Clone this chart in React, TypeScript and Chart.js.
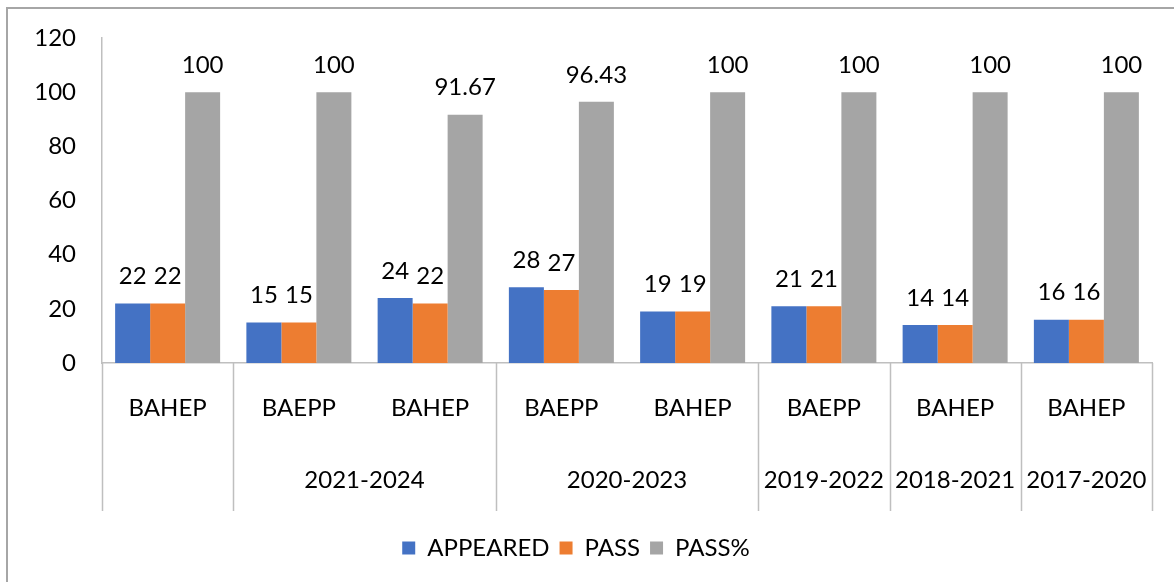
import React, { useEffect, useRef } from "react";
import { Chart, registerables } from "chart.js";

Chart.register(...registerables);

const categories = ["BAHEP", "BAEPP", "BAHEP", "BAEPP", "BAHEP", "BAEPP", "BAHEP", "BAHEP"];
const groupLabels = ["", "2021-2024", "2020-2023", "2019-2022", "2018-2021", "2017-2020"];
const groupStarts = [0, 1, 3, 5, 6, 7];
const groupEnds = [1, 3, 5, 6, 7, 8];
const appeared = [22, 15, 24, 28, 19, 21, 14, 16];
const pass = [22, 15, 22, 27, 19, 21, 14, 16];
const passPct = [100, 100, 91.67, 96.43, 100, 100, 100, 100];
const yTicks = [0, 20, 40, 60, 80, 100, 120];

const FONT = "Lato";
const AXIS_COLOR = "#bfbfbf";

const dataLabelPlugin = {
  id: "dataLabels",
  afterDatasetsDraw(chart: any) {
    const ctx = chart.ctx;
    ctx.save();
    ctx.font = `24px ${FONT}`;
    ctx.fillStyle = "#000";
    ctx.textAlign = "center";
    ctx.textBaseline = "middle";
    chart.data.datasets.forEach((ds: any, di: number) => {
      const meta = chart.getDatasetMeta(di);
      meta.data.forEach((bar: any, i: number) => {
        ctx.fillText(String(ds.data[i]), bar.x, bar.y - 27);
      });
    });
    ctx.restore();
  },
};

const groupAxisPlugin = {
  id: "groupAxis",
  afterDraw(chart: any) {
    const ctx = chart.ctx;
    const area = chart.chartArea;
    const n = categories.length;
    const w = (area.right - area.left) / n;
    const boundaries = Array.from(new Set([...groupStarts, ...groupEnds]));
    ctx.save();
    ctx.strokeStyle = AXIS_COLOR;
    ctx.lineWidth = 1.5;
    boundaries.forEach((b) => {
      const px = Math.round(area.left + b * w) + 0.5;
      ctx.beginPath();
      ctx.moveTo(px, area.bottom);
      ctx.lineTo(px, area.bottom + 148);
      ctx.stroke();
    });
    ctx.font = `24px ${FONT}`;
    ctx.fillStyle = "#000";
    ctx.textAlign = "center";
    ctx.textBaseline = "middle";
    groupLabels.forEach((lab, gi) => {
      if (!lab) return;
      const cx = area.left + ((groupStarts[gi] + groupEnds[gi]) / 2) * w;
      ctx.fillText(lab, cx, area.bottom + 117);
    });
    ctx.restore();
  },
};

export default function App() {
  const ref = useRef<HTMLCanvasElement | null>(null);
  useEffect(() => {
    if (!ref.current) return;
    const chart = new Chart(ref.current, {
      type: "bar",
      data: {
        labels: categories,
        datasets: [
          { label: "APPEARED", data: appeared, backgroundColor: "#4472C4" },
          { label: "PASS", data: pass, backgroundColor: "#ED7D31" },
          { label: "PASS%", data: passPct, backgroundColor: "#A5A5A5" },
        ],
      },
      options: {
        animation: false,
        responsive: false,
        maintainAspectRatio: false,
        layout: { padding: { top: 38, right: 22, bottom: 12, left: 0 } },
        datasets: { bar: { categoryPercentage: 0.8, barPercentage: 1.0 } },
        plugins: {
          legend: {
            position: "bottom",
            labels: {
              font: { family: FONT, size: 24 },
              color: "#000",
              boxWidth: 13,
              boxHeight: 13,
              padding: 10,
            },
          },
          tooltip: { enabled: false },
        },
        scales: {
          x: {
            grid: { display: false, drawTicks: false },
            border: { display: true, color: AXIS_COLOR, width: 1.5 },
            ticks: { font: { family: FONT, size: 24 }, color: "#000", padding: 31, maxRotation: 0, autoSkip: false },
            afterFit: (s: any) => { s.height = 163; },
          },
          y: {
            min: 0,
            max: 120,
            afterBuildTicks: (s: any) => { s.ticks = yTicks.map((v) => ({ value: v })); },
            grid: { display: false, drawTicks: false },
            border: { display: true, color: AXIS_COLOR, width: 1.5 },
            ticks: { font: { family: FONT, size: 24 }, color: "#000", padding: 26 },
            afterFit: (s: any) => {
              s.width = 102;
              s.paddingTop = 15;
              s.paddingBottom = 15;
            },
          },
        },
      },
      plugins: [dataLabelPlugin, groupAxisPlugin],
    });
    return () => chart.destroy();
  }, []);

  return (
    <div style={{ position: "fixed", left: 0, top: 0, width: 1174, height: 582, overflow: "hidden", background: "#fff" }}>
      <div
        style={{
          position: "absolute",
          left: 6,
          top: 7,
          width: 1300,
          height: 700,
          border: "2px solid #a6a6a6",
          boxSizing: "border-box",
        }}
      />
      <canvas ref={ref} width={1174} height={582} style={{ position: "absolute", left: 0, top: 0, width: 1174, height: 582 }} />
    </div>
  );
}
